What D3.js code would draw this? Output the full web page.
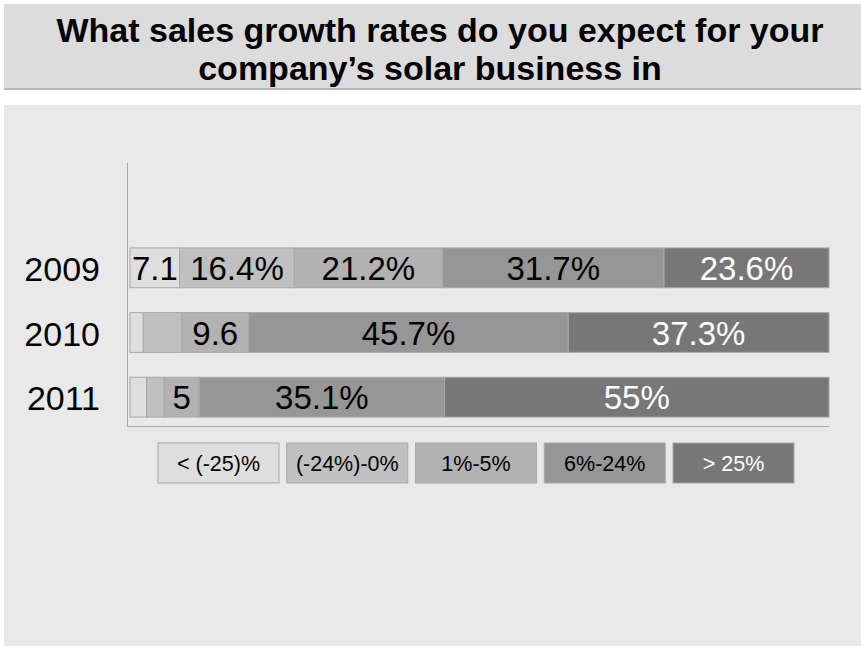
<!DOCTYPE html>
<html>
<head>
<meta charset="utf-8">
<script src="https://cdn.jsdelivr.net/npm/d3@7/dist/d3.min.js"></script>
<style>
  html, body { margin: 0; padding: 0; background: #ffffff; }
  svg { display: block; }
  text { font-family: "Liberation Sans", Arial, sans-serif; }
</style>
</head>
<body>
<svg id="chart" width="861" height="650"></svg>
<script>
// Survey answers: expected solar sales growth, share of respondents (%)
const years = ["2009", "2010", "2011"];
const categories = ["< (-25)%", "(-24%)-0%", "1%-5%", "6%-24%", "> 25%"];
const below25 = [7.1, 1.9, 2.4];
const minus24to0 = [16.4, 5.5, 2.5];
const plus1to5 = [21.2, 9.6, 5];
const plus6to24 = [31.7, 45.7, 35.1];
const above25 = [23.6, 37.3, 55];
// Printed labels in each segment ("" = no label)
const labelsBelow25 = ["7.1", "", ""];
const labelsMinus24to0 = ["16.4%", "", ""];
const labelsPlus1to5 = ["21.2%", "9.6", "5"];
const labelsPlus6to24 = ["31.7%", "45.7%", "35.1%"];
const labelsAbove25 = ["23.6%", "37.3%", "55%"];
const titleLines = ["What sales growth rates do you expect for your", "company\u2019s solar business in"];

const seriesValues = [below25, minus24to0, plus1to5, plus6to24, above25];
const seriesLabels = [labelsBelow25, labelsMinus24to0, labelsPlus1to5, labelsPlus6to24, labelsAbove25];
const fills = ["#dedede", "#c0c0c0", "#b2b2b2", "#969696", "#777777"];
const textFills = ["#000", "#000", "#000", "#000", "#fff"];

const rows = years.map((y, i) => {
  const r = { year: y };
  categories.forEach((c, k) => { r[c] = seriesValues[k][i]; });
  return r;
});
const stacked = d3.stack().keys(categories)(rows);

const svg = d3.select("#chart");

// Title band
svg.append("rect").attr("x", 4).attr("y", 4).attr("width", 857).attr("height", 85).attr("fill", "#dcdcdc");
svg.append("rect").attr("x", 4).attr("y", 88).attr("width", 857).attr("height", 2).attr("fill", "#b8b8b8");
svg.append("g").selectAll("text").data(titleLines).join("text")
  .attr("x", (d, i) => i === 0 ? 440 : 430).attr("y", (d, i) => 42 + i * 38)
  .attr("text-anchor", "middle")
  .attr("font-size", 34).attr("font-weight", "bold").attr("fill", "#000")
  .text(d => d);

// Chart panel
svg.append("rect").attr("x", 4).attr("y", 105).attr("width", 857).attr("height", 541).attr("fill", "#e9e9e9");

const x = d3.scaleLinear().domain([0, 100]).range([130, 829]);
const y = d3.scaleBand().domain(years).range([235, 430]).paddingInner(0.385).paddingOuter(0.2);

// Axis lines
svg.append("line").attr("x1", 127.5).attr("x2", 127.5).attr("y1", 163).attr("y2", 426)
  .attr("stroke", "#a6a6a6").attr("stroke-width", 1);
svg.append("line").attr("x1", 127).attr("x2", 829).attr("y1", 426.5).attr("y2", 426.5)
  .attr("stroke", "#a6a6a6").attr("stroke-width", 1);

// Year labels
svg.append("g").selectAll("text").data(years).join("text")
  .attr("x", 100).attr("y", d => y(d) + y.bandwidth() / 2 + 13)
  .attr("text-anchor", "end").attr("font-size", 34).attr("fill", "#000")
  .text(d => d);

// Stacked segments
const layers = svg.append("g").selectAll("g").data(stacked).join("g")
  .attr("fill", (d, k) => fills[k]);
layers.selectAll("rect").data(d => d).join("rect")
  .attr("x", d => x(d[0]))
  .attr("y", d => y(d.data.year))
  .attr("width", d => x(d[1]) - x(d[0]))
  .attr("height", y.bandwidth())
  .attr("stroke", "#a8a8a8").attr("stroke-width", 1);

// Segment labels
const labelG = svg.append("g");
stacked.forEach((layer, k) => {
  layer.forEach((d, i) => {
    const t = seriesLabels[k][i];
    if (!t) return;
    labelG.append("text")
      .attr("x", (x(d[0]) + x(d[1])) / 2)
      .attr("y", y(d.data.year) + y.bandwidth() / 2 + 12)
      .attr("text-anchor", "middle").attr("font-size", 33)
      .attr("fill", textFills[k])
      .text(t);
  });
});

// Legend
const legendX = d3.scalePoint().domain(categories).range([158, 673]);
const leg = svg.append("g").selectAll("g").data(categories).join("g")
  .attr("transform", d => `translate(${legendX(d)},443)`);
leg.append("rect").attr("width", 121).attr("height", 40)
  .attr("fill", (d, k) => fills[k]).attr("stroke", "#a8a8a8").attr("stroke-width", 1);
leg.append("text").attr("x", 60.5).attr("y", 28)
  .attr("text-anchor", "middle").attr("font-size", 21.5)
  .attr("fill", (d, k) => textFills[k])
  .text(d => d);
</script>
</body>
</html>
